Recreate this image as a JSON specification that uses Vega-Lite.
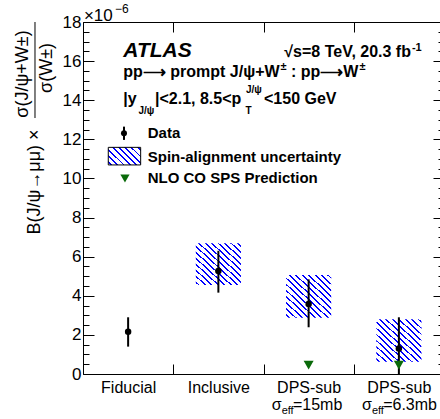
{
  "$schema": "https://vega.github.io/schema/vega-lite/v6.json",
  "width": 357,
  "height": 352,
  "autosize": {"type": "none"},
  "padding": {"left": 83, "top": 22, "right": 0, "bottom": 45},
  "background": "white",
  "config": {
    "view": {"stroke": null},
    "font": "Liberation Sans",
    "axis": {"grid": false, "domainColor": "black", "tickColor": "black", "labelColor": "black", "titleColor": "black", "domainWidth": 1, "tickWidth": 1}
  },
  "datasets": {
    "meas": [
      {"cat": "Fiducial", "value": 2.16, "lo": 1.40, "hi": 2.90},
      {"cat": "Inclusive", "value": 5.27, "lo": 4.16, "hi": 6.30},
      {"cat": "DPS-sub σeff=15mb", "value": 3.58, "lo": 2.39, "hi": 4.84},
      {"cat": "DPS-sub σeff=6.3mb", "value": 1.31, "lo": 0.0, "hi": 2.90}
    ],
    "spin": [
      {"cat": "Inclusive", "lo": 4.55, "hi": 6.68},
      {"cat": "DPS-sub σeff=15mb", "lo": 2.88, "hi": 5.06},
      {"cat": "DPS-sub σeff=6.3mb", "lo": 0.63, "hi": 2.80}
    ],
    "nlo": [
      {"cat": "DPS-sub σeff=15mb", "value": 0.45},
      {"cat": "DPS-sub σeff=6.3mb", "value": 0.45}
    ],
    "sub": [
      {"cat": "DPS-sub σeff=15mb", "sig": "σ", "eff": "eff", "rest": "=15mb"},
      {"cat": "DPS-sub σeff=6.3mb", "sig": "σ", "eff": "eff", "rest": "=6.3mb"}
    ],
    "one": [{}]
  },
  "layer": [
    {
      "data": {"name": "spin"},
      "mark": {"type": "bar", "width": {"band": 0.5},
        "fill": {"gradient": "linear", "x1": 0, "y1": 1, "x2": 1, "y2": 0, "stops": [
          {"offset": 0, "color": "rgba(0,0,255,0)"},
          {"offset": 0.025, "color": "rgba(0,0,255,0)"}, {"offset": 0.025, "color": "#0000ff"}, {"offset": 0.0464, "color": "#0000ff"}, {"offset": 0.0464, "color": "rgba(0,0,255,0)"},
          {"offset": 0.0964, "color": "rgba(0,0,255,0)"}, {"offset": 0.0964, "color": "#0000ff"}, {"offset": 0.1179, "color": "#0000ff"}, {"offset": 0.1179, "color": "rgba(0,0,255,0)"},
          {"offset": 0.1679, "color": "rgba(0,0,255,0)"}, {"offset": 0.1679, "color": "#0000ff"}, {"offset": 0.1893, "color": "#0000ff"}, {"offset": 0.1893, "color": "rgba(0,0,255,0)"},
          {"offset": 0.2393, "color": "rgba(0,0,255,0)"}, {"offset": 0.2393, "color": "#0000ff"}, {"offset": 0.2607, "color": "#0000ff"}, {"offset": 0.2607, "color": "rgba(0,0,255,0)"},
          {"offset": 0.3107, "color": "rgba(0,0,255,0)"}, {"offset": 0.3107, "color": "#0000ff"}, {"offset": 0.3321, "color": "#0000ff"}, {"offset": 0.3321, "color": "rgba(0,0,255,0)"},
          {"offset": 0.3821, "color": "rgba(0,0,255,0)"}, {"offset": 0.3821, "color": "#0000ff"}, {"offset": 0.4036, "color": "#0000ff"}, {"offset": 0.4036, "color": "rgba(0,0,255,0)"},
          {"offset": 0.4536, "color": "rgba(0,0,255,0)"}, {"offset": 0.4536, "color": "#0000ff"}, {"offset": 0.475, "color": "#0000ff"}, {"offset": 0.475, "color": "rgba(0,0,255,0)"},
          {"offset": 0.525, "color": "rgba(0,0,255,0)"}, {"offset": 0.525, "color": "#0000ff"}, {"offset": 0.5464, "color": "#0000ff"}, {"offset": 0.5464, "color": "rgba(0,0,255,0)"},
          {"offset": 0.5964, "color": "rgba(0,0,255,0)"}, {"offset": 0.5964, "color": "#0000ff"}, {"offset": 0.6179, "color": "#0000ff"}, {"offset": 0.6179, "color": "rgba(0,0,255,0)"},
          {"offset": 0.6679, "color": "rgba(0,0,255,0)"}, {"offset": 0.6679, "color": "#0000ff"}, {"offset": 0.6893, "color": "#0000ff"}, {"offset": 0.6893, "color": "rgba(0,0,255,0)"},
          {"offset": 0.7393, "color": "rgba(0,0,255,0)"}, {"offset": 0.7393, "color": "#0000ff"}, {"offset": 0.7607, "color": "#0000ff"}, {"offset": 0.7607, "color": "rgba(0,0,255,0)"},
          {"offset": 0.8107, "color": "rgba(0,0,255,0)"}, {"offset": 0.8107, "color": "#0000ff"}, {"offset": 0.8321, "color": "#0000ff"}, {"offset": 0.8321, "color": "rgba(0,0,255,0)"},
          {"offset": 0.8821, "color": "rgba(0,0,255,0)"}, {"offset": 0.8821, "color": "#0000ff"}, {"offset": 0.9036, "color": "#0000ff"}, {"offset": 0.9036, "color": "rgba(0,0,255,0)"},
          {"offset": 0.9536, "color": "rgba(0,0,255,0)"}, {"offset": 0.9536, "color": "#0000ff"}, {"offset": 0.975, "color": "#0000ff"}, {"offset": 0.975, "color": "rgba(0,0,255,0)"},
          {"offset": 1, "color": "rgba(0,0,255,0)"}
        ]}},
      "encoding": {
        "x": {"field": "cat", "type": "nominal", "sort": null,
          "scale": {"domain": ["Fiducial", "Inclusive", "DPS-sub σeff=15mb", "DPS-sub σeff=6.3mb"], "range": [0, 361], "paddingInner": 0, "paddingOuter": 0},
          "axis": {"orient": "bottom", "title": null, "tickBand": "extent", "tickSize": -10, "labelExpr": "split(datum.label, ' ')[0]", "labelAngle": 0, "labelFontSize": 16, "labelPadding": 15, "labelBaseline": "top"}},
        "y": {"field": "lo", "type": "quantitative",
          "scale": {"domain": [0, 18], "nice": false, "zero": true},
          "axis": {"orient": "left",
            "values": [0, 0.5, 1, 1.5, 2, 2.5, 3, 3.5, 4, 4.5, 5, 5.5, 6, 6.5, 7, 7.5, 8, 8.5, 9, 9.5, 10, 10.5, 11, 11.5, 12, 12.5, 13, 13.5, 14, 14.5, 15, 15.5, 16, 16.5, 17, 17.5, 18],
            "tickSize": {"condition": {"test": "datum.value % 2 === 0", "value": -11}, "value": -6},
            "labelExpr": "datum.value % 2 === 0 ? format(datum.value, 'd') : ''",
            "labelFontSize": 17, "labelPadding": 13, "labelFlush": false, "labelOverlap": false,
            "title": "B(J/ψ→μμ) ×", "titleFontSize": 18, "titleFontWeight": "normal", "titleAngle": 270,
            "titleX": -44, "titleY": 159.5, "titleAlign": "center", "titleBaseline": "alphabetic"}},
        "y2": {"field": "hi"}
      }
    },
    {
      "data": {"name": "meas"},
      "mark": {"type": "rule", "color": "black", "strokeWidth": 2},
      "encoding": {
        "x": {"field": "cat", "type": "nominal", "sort": null,
          "axis": {"orient": "top", "title": null, "tickBand": "extent", "tickSize": -10, "labels": false}},
        "y": {"field": "lo", "type": "quantitative",
          "axis": {"orient": "right", "offset": 4, "domain": false, "labels": false, "title": null,
            "values": [0, 0.5, 1, 1.5, 2, 2.5, 3, 3.5, 4, 4.5, 5, 5.5, 6, 6.5, 7, 7.5, 8, 8.5, 9, 9.5, 10, 10.5, 11, 11.5, 12, 12.5, 13, 13.5, 14, 14.5, 15, 15.5, 16, 16.5, 17, 17.5, 18],
            "tickSize": {"condition": {"test": "datum.value % 2 === 0", "value": -11}, "value": -6}}},
        "y2": {"field": "hi"}
      }
    },
    {
      "data": {"name": "meas"},
      "mark": {"type": "point", "filled": true, "color": "black", "opacity": 1, "size": 42},
      "encoding": {
        "x": {"field": "cat", "type": "nominal", "sort": null, "axis": null},
        "y": {"field": "value", "type": "quantitative", "axis": null}
      }
    },
    {
      "data": {"name": "nlo"},
      "mark": {"type": "point", "shape": "triangle-down", "filled": true, "color": "#0a6a0a", "opacity": 1, "size": 100},
      "encoding": {
        "x": {"field": "cat", "type": "nominal", "sort": null, "axis": null},
        "y": {"field": "value", "type": "quantitative", "axis": null}
      }
    },
    {
      "data": {"name": "sub"},
      "mark": {"type": "text", "align": "right", "baseline": "alphabetic", "fontSize": 16, "dx": -27, "color": "black"},
      "encoding": {
        "x": {"field": "cat", "type": "nominal", "sort": null, "axis": null},
        "y": {"datum": -1.84, "type": "quantitative", "axis": null},
        "text": {"field": "sig"}
      }
    },
    {
      "data": {"name": "sub"},
      "mark": {"type": "text", "align": "left", "baseline": "alphabetic", "fontSize": 11, "dx": -27, "color": "black"},
      "encoding": {
        "x": {"field": "cat", "type": "nominal", "sort": null, "axis": null},
        "y": {"datum": -2.05, "type": "quantitative", "axis": null},
        "text": {"field": "eff"}
      }
    },
    {
      "data": {"name": "sub"},
      "mark": {"type": "text", "align": "left", "baseline": "alphabetic", "fontSize": 16, "dx": -15.7, "color": "black"},
      "encoding": {
        "x": {"field": "cat", "type": "nominal", "sort": null, "axis": null},
        "y": {"datum": -1.84, "type": "quantitative", "axis": null},
        "text": {"field": "rest"}
      }
    },
    {
      "data": {"name": "one"},
      "mark": {"type": "text", "text": "×10", "align": "left", "baseline": "alphabetic", "fontSize": 17, "color": "black"},
      "encoding": {"x": {"datum": "Fiducial", "type": "nominal", "bandPosition": 0.01, "axis": null}, "y": {"datum": 18.07, "type": "quantitative", "axis": null}}
    },
    {
      "data": {"name": "one"},
      "mark": {"type": "text", "text": "−6", "align": "left", "baseline": "alphabetic", "fontSize": 12, "color": "black"},
      "encoding": {"x": {"datum": "Fiducial", "type": "nominal", "bandPosition": 0.355, "axis": null}, "y": {"datum": 18.475, "type": "quantitative", "axis": null}}
    },
    {
      "data": {"name": "one"},
      "mark": {"type": "text", "text": "ATLAS", "align": "left", "baseline": "alphabetic", "fontSize": 21, "fontWeight": "bold", "fontStyle": "italic", "color": "black"},
      "encoding": {"x": {"datum": "Fiducial", "type": "nominal", "bandPosition": 0.4465, "axis": null}, "y": {"datum": 16.23, "type": "quantitative", "axis": null}}
    },
    {
      "data": {"name": "one"},
      "mark": {"type": "text", "text": "√s=8 TeV, 20.3 fb", "align": "right", "baseline": "alphabetic", "fontSize": 16, "fontWeight": "bold", "color": "black"},
      "encoding": {"x": {"datum": "DPS-sub σeff=6.3mb", "type": "nominal", "bandPosition": 0.634, "axis": null}, "y": {"datum": 16.23, "type": "quantitative", "axis": null}}
    },
    {
      "data": {"name": "one"},
      "mark": {"type": "text", "text": "-1", "align": "left", "baseline": "alphabetic", "fontSize": 11, "fontWeight": "bold", "color": "black"},
      "encoding": {"x": {"datum": "DPS-sub σeff=6.3mb", "type": "nominal", "bandPosition": 0.645, "axis": null}, "y": {"datum": 16.5, "type": "quantitative", "axis": null}}
    },
    {
      "data": {"name": "one"},
      "mark": {"type": "text", "text": "pp⟶ prompt J/ψ+W", "align": "left", "baseline": "alphabetic", "fontSize": 16, "fontWeight": "bold", "color": "black"},
      "encoding": {"x": {"datum": "Fiducial", "type": "nominal", "bandPosition": 0.4465, "axis": null}, "y": {"datum": 15.2, "type": "quantitative", "axis": null}}
    },
    {
      "data": {"name": "one"},
      "mark": {"type": "text", "text": "±", "align": "left", "baseline": "alphabetic", "fontSize": 11, "fontWeight": "bold", "color": "black"},
      "encoding": {"x": {"datum": "DPS-sub σeff=15mb", "type": "nominal", "bandPosition": 0.1884, "axis": null}, "y": {"datum": 15.57, "type": "quantitative", "axis": null}}
    },
    {
      "data": {"name": "one"},
      "mark": {"type": "text", "text": ": pp⟶W", "align": "left", "baseline": "alphabetic", "fontSize": 16, "fontWeight": "bold", "color": "black"},
      "encoding": {"x": {"datum": "DPS-sub σeff=15mb", "type": "nominal", "bandPosition": 0.3047, "axis": null}, "y": {"datum": 15.2, "type": "quantitative", "axis": null}}
    },
    {
      "data": {"name": "one"},
      "mark": {"type": "text", "text": "±", "align": "left", "baseline": "alphabetic", "fontSize": 11, "fontWeight": "bold", "color": "black"},
      "encoding": {"x": {"datum": "DPS-sub σeff=6.3mb", "type": "nominal", "bandPosition": 0.064, "axis": null}, "y": {"datum": 15.57, "type": "quantitative", "axis": null}}
    },
    {
      "data": {"name": "one"},
      "mark": {"type": "text", "text": "|y", "align": "left", "baseline": "alphabetic", "fontSize": 16, "fontWeight": "bold", "color": "black"},
      "encoding": {"x": {"datum": "Fiducial", "type": "nominal", "bandPosition": 0.4465, "axis": null}, "y": {"datum": 13.81, "type": "quantitative", "axis": null}}
    },
    {
      "data": {"name": "one"},
      "mark": {"type": "text", "text": "J/ψ", "align": "left", "baseline": "alphabetic", "fontSize": 10, "fontWeight": "bold", "color": "black"},
      "encoding": {"x": {"datum": "Fiducial", "type": "nominal", "bandPosition": 0.615, "axis": null}, "y": {"datum": 13.3, "type": "quantitative", "axis": null}}
    },
    {
      "data": {"name": "one"},
      "mark": {"type": "text", "text": "|<2.1, 8.5<p", "align": "left", "baseline": "alphabetic", "fontSize": 16, "fontWeight": "bold", "color": "black"},
      "encoding": {"x": {"datum": "Fiducial", "type": "nominal", "bandPosition": 0.798, "axis": null}, "y": {"datum": 13.81, "type": "quantitative", "axis": null}}
    },
    {
      "data": {"name": "one"},
      "mark": {"type": "text", "text": "T", "align": "left", "baseline": "alphabetic", "fontSize": 10, "fontWeight": "bold", "color": "black"},
      "encoding": {"x": {"datum": "Inclusive", "type": "nominal", "bandPosition": 0.8006, "axis": null}, "y": {"datum": 13.3, "type": "quantitative", "axis": null}}
    },
    {
      "data": {"name": "one"},
      "mark": {"type": "text", "text": "J/ψ", "align": "left", "baseline": "alphabetic", "fontSize": 10, "fontWeight": "bold", "color": "black"},
      "encoding": {"x": {"datum": "Inclusive", "type": "nominal", "bandPosition": 0.806, "axis": null}, "y": {"datum": 14.37, "type": "quantitative", "axis": null}}
    },
    {
      "data": {"name": "one"},
      "mark": {"type": "text", "text": "<150 GeV", "align": "left", "baseline": "alphabetic", "fontSize": 16, "fontWeight": "bold", "color": "black"},
      "encoding": {"x": {"datum": "DPS-sub σeff=15mb", "type": "nominal", "bandPosition": 0.0055, "axis": null}, "y": {"datum": 13.81, "type": "quantitative", "axis": null}}
    },
    {
      "data": {"name": "one"},
      "mark": {"type": "rule", "color": "black", "strokeWidth": 2},
      "encoding": {"x": {"datum": "Fiducial", "type": "nominal", "bandPosition": 0.454, "axis": null}, "y": {"datum": 12.65, "type": "quantitative", "axis": null}, "y2": {"datum": 11.97}}
    },
    {
      "data": {"name": "one"},
      "mark": {"type": "point", "filled": true, "color": "black", "opacity": 1, "size": 36},
      "encoding": {"x": {"datum": "Fiducial", "type": "nominal", "bandPosition": 0.454, "axis": null}, "y": {"datum": 12.31, "type": "quantitative", "axis": null}}
    },
    {
      "data": {"name": "one"},
      "mark": {"type": "text", "text": "Data", "align": "left", "baseline": "alphabetic", "fontSize": 15, "fontWeight": "bold", "color": "black"},
      "encoding": {"x": {"datum": "Fiducial", "type": "nominal", "bandPosition": 0.717, "axis": null}, "y": {"datum": 12.08, "type": "quantitative", "axis": null}}
    },
    {
      "data": {"name": "one"},
      "mark": {"type": "rect", "stroke": "black", "strokeWidth": 1,
        "fill": {"gradient": "linear", "x1": 0, "y1": 1, "x2": 1.191, "y2": 0.351, "stops": [
          {"offset": 0, "color": "rgba(0,0,255,0)"},
          {"offset": 0.0438, "color": "rgba(0,0,255,0)"}, {"offset": 0.0438, "color": "#0000ff"}, {"offset": 0.0813, "color": "#0000ff"}, {"offset": 0.0813, "color": "rgba(0,0,255,0)"},
          {"offset": 0.1688, "color": "rgba(0,0,255,0)"}, {"offset": 0.1688, "color": "#0000ff"}, {"offset": 0.2063, "color": "#0000ff"}, {"offset": 0.2063, "color": "rgba(0,0,255,0)"},
          {"offset": 0.2938, "color": "rgba(0,0,255,0)"}, {"offset": 0.2938, "color": "#0000ff"}, {"offset": 0.3313, "color": "#0000ff"}, {"offset": 0.3313, "color": "rgba(0,0,255,0)"},
          {"offset": 0.4188, "color": "rgba(0,0,255,0)"}, {"offset": 0.4188, "color": "#0000ff"}, {"offset": 0.4563, "color": "#0000ff"}, {"offset": 0.4563, "color": "rgba(0,0,255,0)"},
          {"offset": 0.5438, "color": "rgba(0,0,255,0)"}, {"offset": 0.5438, "color": "#0000ff"}, {"offset": 0.5813, "color": "#0000ff"}, {"offset": 0.5813, "color": "rgba(0,0,255,0)"},
          {"offset": 0.6688, "color": "rgba(0,0,255,0)"}, {"offset": 0.6688, "color": "#0000ff"}, {"offset": 0.7063, "color": "#0000ff"}, {"offset": 0.7063, "color": "rgba(0,0,255,0)"},
          {"offset": 0.7938, "color": "rgba(0,0,255,0)"}, {"offset": 0.7938, "color": "#0000ff"}, {"offset": 0.8313, "color": "#0000ff"}, {"offset": 0.8313, "color": "rgba(0,0,255,0)"},
          {"offset": 0.9188, "color": "rgba(0,0,255,0)"}, {"offset": 0.9188, "color": "#0000ff"}, {"offset": 0.9563, "color": "#0000ff"}, {"offset": 0.9563, "color": "rgba(0,0,255,0)"},
          {"offset": 1, "color": "rgba(0,0,255,0)"}
        ]}},
      "encoding": {"x": {"datum": "Fiducial", "type": "nominal", "bandPosition": 0.28, "axis": null}, "x2": {"datum": "Fiducial", "bandPosition": 0.639}, "y": {"datum": 11.59, "type": "quantitative", "axis": null}, "y2": {"datum": 10.69}}
    },
    {
      "data": {"name": "one"},
      "mark": {"type": "text", "text": "Spin-alignment uncertainty", "align": "left", "baseline": "alphabetic", "fontSize": 15, "fontWeight": "bold", "color": "black"},
      "encoding": {"x": {"datum": "Fiducial", "type": "nominal", "bandPosition": 0.717, "axis": null}, "y": {"datum": 10.86, "type": "quantitative", "axis": null}}
    },
    {
      "data": {"name": "one"},
      "mark": {"type": "point", "shape": "triangle-down", "filled": true, "color": "#0a6a0a", "opacity": 1, "size": 85},
      "encoding": {"x": {"datum": "Fiducial", "type": "nominal", "bandPosition": 0.465, "axis": null}, "y": {"datum": 10.0, "type": "quantitative", "axis": null}}
    },
    {
      "data": {"name": "one"},
      "mark": {"type": "text", "text": "NLO CO SPS Prediction", "align": "left", "baseline": "alphabetic", "fontSize": 15, "fontWeight": "bold", "color": "black"},
      "encoding": {"x": {"datum": "Fiducial", "type": "nominal", "bandPosition": 0.717, "axis": null}, "y": {"datum": 9.75, "type": "quantitative", "axis": null}}
    },
    {
      "data": {"name": "one"},
      "mark": {"type": "text", "text": "σ(J/ψ+W±)", "angle": 270, "align": "center", "baseline": "alphabetic", "fontSize": 18, "color": "black"},
      "encoding": {"x": {"datum": "Fiducial", "type": "nominal", "bandPosition": -0.609, "axis": null}, "y": {"datum": 15.34, "type": "quantitative", "axis": null}}
    },
    {
      "data": {"name": "one"},
      "mark": {"type": "rule", "color": "black", "strokeWidth": 1},
      "encoding": {"x": {"datum": "Fiducial", "type": "nominal", "bandPosition": -0.532, "axis": null}, "y": {"datum": 18.0, "type": "quantitative", "axis": null}, "y2": {"datum": 13.09}}
    },
    {
      "data": {"name": "one"},
      "mark": {"type": "text", "text": "σ(W±)", "angle": 270, "align": "center", "baseline": "alphabetic", "fontSize": 18, "color": "black"},
      "encoding": {"x": {"datum": "Fiducial", "type": "nominal", "bandPosition": -0.343, "axis": null}, "y": {"datum": 15.65, "type": "quantitative", "axis": null}}
    }
  ],
  "resolve": {"axis": {"x": "independent", "y": "independent"}}
}
